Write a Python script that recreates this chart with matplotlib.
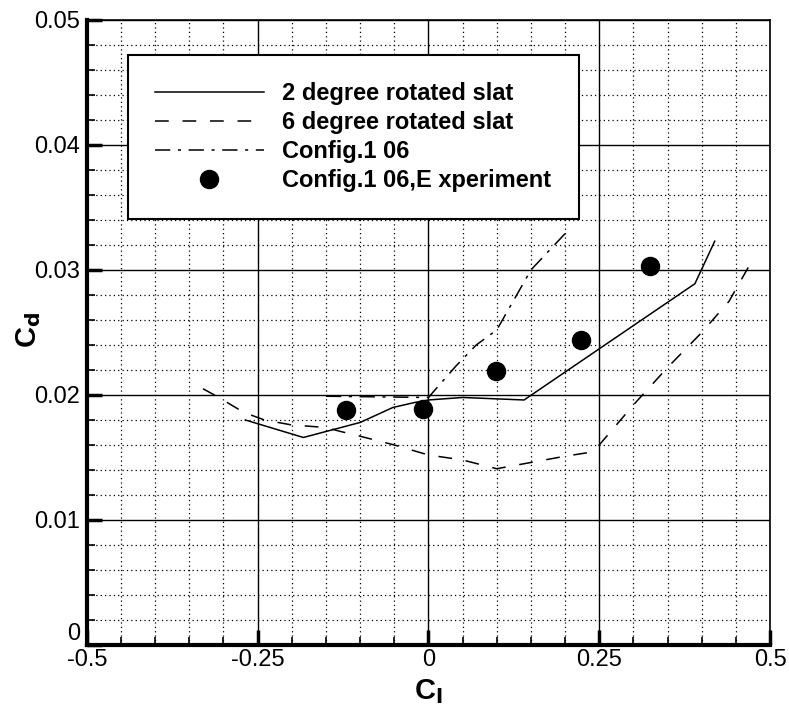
import matplotlib
matplotlib.use("Agg")
import matplotlib.pyplot as plt
from matplotlib.ticker import MultipleLocator

# 2 degree rotated slat (solid)
cl_2deg = [-0.268, -0.183, -0.10, -0.052, -0.02, 0.0, 0.05, 0.14, 0.39, 0.419]
cd_2deg = [0.0180, 0.0166, 0.0178, 0.0190, 0.0194, 0.0196, 0.0198, 0.0196, 0.0289, 0.0323]

# 6 degree rotated slat (dashed)
cl_6deg = [-0.33, -0.31, -0.27, -0.24, -0.20, -0.15, -0.13, -0.10, -0.05, 0.0,
           0.05, 0.10, 0.15, 0.20, 0.235, 0.25, 0.30, 0.35, 0.40, 0.44, 0.468]
cd_6deg = [0.0205, 0.0199, 0.0186, 0.0180, 0.0176, 0.0174, 0.0171, 0.0167, 0.0160, 0.0152,
           0.0148, 0.0141, 0.0146, 0.0151, 0.0154, 0.0160, 0.0192, 0.0222, 0.0250, 0.0275, 0.0302]

# Config.1 06 (dash-dot)
cl_cfg = [-0.15, 0.0, 0.04, 0.07, 0.10, 0.15, 0.205]
cd_cfg = [0.0199, 0.0198, 0.0223, 0.0240, 0.0252, 0.0300, 0.0332]

# Config.1 06, experiment (markers)
cl_exp = [-0.12, -0.008, 0.099, 0.223, 0.324]
cd_exp = [0.0188, 0.0189, 0.0219, 0.0244, 0.0303]

x_ticks = [-0.5, -0.25, 0.0, 0.25, 0.5]
x_ticklabels = ["-0.5", "-0.25", "0", "0.25", "0.5"]
y_ticks = [0.0, 0.01, 0.02, 0.03, 0.04, 0.05]
y_ticklabels = ["0", "0.01", "0.02", "0.03", "0.04", "0.05"]

plt.rcParams["font.family"] = ["Liberation Sans", "DejaVu Sans"]

fig = plt.figure(figsize=(7.89, 7.13), dpi=100)
ax = fig.add_axes([0.110, 0.0954, 0.866, 0.8766])

ax.plot(cl_2deg, cd_2deg, color="black", lw=1.1, ls="-",
        label="2 degree rotated slat", zorder=3)
ax.plot(cl_6deg, cd_6deg, color="black", lw=1.1, ls=(0, (9, 9)),
        label="6 degree rotated slat", zorder=3)
ax.plot(cl_cfg, cd_cfg, color="black", lw=1.1, ls=(0, (10, 5, 2, 5)),
        label="Config.1 06", zorder=3)
ax.plot(cl_exp, cd_exp, "o", color="black", ms=13, ls="none",
        label="Config.1 06,E xperiment", zorder=4)

ax.set_xlim(-0.5, 0.5)
ax.set_ylim(0, 0.05)
ax.set_xticks(x_ticks)
ax.set_xticklabels(x_ticklabels)
ax.set_yticks(y_ticks)
ax.set_yticklabels(y_ticklabels)
ax.xaxis.set_minor_locator(MultipleLocator(0.05))
ax.yaxis.set_minor_locator(MultipleLocator(0.002))
# the "0" sits above the corner, clear of "-0.5"
ax.get_yticklabels()[0].set_verticalalignment("bottom")

ax.grid(which="major", color="black", lw=1.0, ls="-")
ax.grid(which="minor", color="black", lw=0.9, ls=(0, (1, 2.5)))
ax.set_axisbelow(True)

ax.tick_params(axis="x", which="major", pad=3)
ax.tick_params(axis="y", which="major", pad=5)
ax.tick_params(which="major", direction="in", length=11, width=2.5,
               labelsize=17)
ax.tick_params(which="minor", direction="in", length=6, width=1.2)
ax.spines["left"].set_linewidth(3)
ax.spines["bottom"].set_linewidth(3)
ax.spines["top"].set_linewidth(1.2)
ax.spines["right"].set_linewidth(1.2)

ax.set_xlabel("C$_\\mathbf{l}$", fontsize=21, fontweight="bold")
ax.xaxis.set_label_coords(0.5, -0.052)
ax.set_ylabel("C$_\\mathbf{d}$", fontsize=21, fontweight="bold")
ax.yaxis.set_label_coords(-0.064, 0.504)

leg = ax.legend(loc="upper left", bbox_to_anchor=(0.06, 0.944),
                borderaxespad=0, frameon=True, fancybox=False,
                framealpha=1, edgecolor="black", handlelength=4.6,
                handletextpad=0.8, labelspacing=0.25, borderpad=1.15,
                prop={"weight": "bold", "size": 17})
leg.get_frame().set_linewidth(1.5)
leg.set_zorder(5)

fig.savefig("out.png", dpi=100)
